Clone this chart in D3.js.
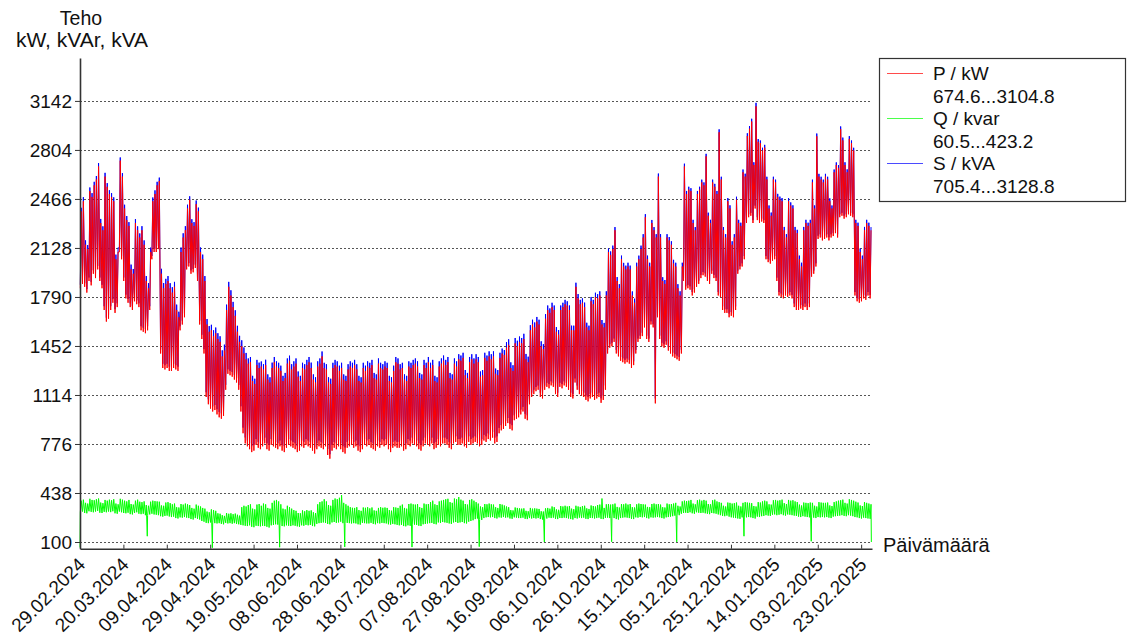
<!DOCTYPE html>
<html>
<head>
<meta charset="utf-8">
<script src="https://cdn.jsdelivr.net/npm/d3@7"></script>
<style>
  body { margin: 0; background: #fff; }
  svg { font-family: "Liberation Sans", Arial, sans-serif; }
  .axis path, .axis line { stroke: #333; }
  .axis text { fill: #111; }
</style>
</head>
<body>
<div id="chart"></div>
<script>
// first day of the data, one row = one week (Thu..Wed), 2 readings a day (night low / day high)
var startLabel = "29.02.2024";

var xTickLabels = ["29.02.2024", "20.03.2024", "09.04.2024", "29.04.2024", "19.05.2024", "08.06.2024",
  "28.06.2024", "18.07.2024", "07.08.2024", "27.08.2024", "16.09.2024", "06.10.2024", "26.10.2024",
  "15.11.2024", "05.12.2024", "25.12.2024", "14.01.2025", "03.02.2025", "23.02.2025"];
var yTicks = [100, 438, 776, 1114, 1452, 1790, 2128, 2466, 2804, 3142];

var legendNames = ["P / kW", "Q / kvar", "S / kVA"];
var legendRanges = ["674.6...3104.8", "60.5...423.2", "705.4...3128.8"];
var colors = ["#ff0000", "#00ff00", "#0000ff"];

// P / kW daily peaks
var pHi = [
  2380, 2450, 2150, 2120, 2520, 2480, 2560,
  2600, 2690, 2300, 2250, 2620, 2550, 2500,
  2480, 2450, 2050, 2100, 2730, 2620, 2400,
  2320, 2280, 1980, 1950, 2300, 2250, 2200,
  2250, 2150, 1900, 1850, 2100, 2450, 2500,
  2560, 2590, 1950, 1850, 1880, 1900, 1850,
  1820, 1860, 1700, 1650, 2100, 2200, 2250,
  2400, 2460, 2300, 2280, 2430, 2380, 2100,
  2050, 1900, 1600, 1550, 1560, 1520, 1540,
  1500, 1480, 1380, 1420, 1700, 1860, 1800,
  1720, 1660, 1550, 1480, 1450, 1400, 1360,
  1330, 1340, 1210, 1190, 1320, 1300, 1310,
  1290, 1320, 1220, 1200, 1300, 1340, 1310,
  1300, 1280, 1210, 1230, 1330, 1350, 1290,
  1310, 1330, 1240, 1210, 1300, 1290, 1320,
  1340, 1300, 1220, 1200, 1310, 1330, 1380,
  1300, 1290, 1200, 1190, 1300, 1320, 1310,
  1280, 1300, 1220, 1210, 1290, 1310, 1300,
  1320, 1290, 1210, 1200, 1300, 1280, 1310,
  1300, 1320, 1230, 1220, 1330, 1300, 1290,
  1310, 1300, 1210, 1200, 1280, 1340, 1330,
  1290, 1300, 1220, 1210, 1310, 1300, 1320,
  1330, 1310, 1230, 1220, 1320, 1300, 1340,
  1300, 1320, 1210, 1200, 1310, 1330, 1350,
  1320, 1340, 1230, 1220, 1330, 1310, 1360,
  1350, 1370, 1250, 1230, 1340, 1360, 1330,
  1360, 1340, 1240, 1250, 1370, 1350, 1380,
  1360, 1380, 1260, 1250, 1370, 1400, 1390,
  1440, 1460, 1300, 1280, 1470, 1450, 1480,
  1470, 1500, 1360, 1340, 1560, 1600, 1580,
  1620, 1600, 1450, 1430, 1640, 1700, 1680,
  1720, 1700, 1550, 1530, 1700, 1720, 1740,
  1730, 1700, 1560, 1560, 1860, 1780, 1740,
  1750, 1720, 1580, 1560, 1760, 1740, 1790,
  1780, 1800, 1600, 1580, 1800, 2100, 2080,
  2120, 2250, 1900, 1850, 2050, 2000, 1980,
  2000, 1980, 1800, 1750, 2000, 2050, 2120,
  2200, 2340, 2050, 2000, 2300, 2250, 2200,
  2620, 2200, 1900, 1880, 2200, 2180, 2150,
  2020, 2000, 1850, 1800, 2000, 2690, 2500,
  2530, 2520, 2300, 2250, 2500, 2530, 2580,
  2560, 2760, 2350, 2300, 2580, 2550, 2500,
  2926, 2600, 2250, 2200, 2450, 2400, 2150,
  2200, 2460, 2300, 2280, 2650, 2620, 2900,
  2950, 3000, 2700, 3104.8, 2860, 2850, 2800,
  2820, 2600, 2400, 2350, 2600, 2580, 2480,
  2460, 2450, 2250, 2200, 2450, 2420, 2400,
  2250, 2230, 2050, 2000, 2250, 2300, 2280,
  2300, 2580, 2400, 2898, 2620, 2600, 2580,
  2620, 2600, 2450, 2400, 2650, 2700, 2680,
  2947, 2870, 2700, 2650, 2880, 2850, 2800,
  2300, 2280, 2100, 2050, 2250, 2300, 2280,
  2250
];
// P / kW nightly lows
var pLo = [
  1850, 1880, 1860, 1820, 1900, 1870, 1950,
  1920, 1980, 1900, 1850, 1700, 1620, 1640,
  1700, 1750, 1680, 1720, 2100, 2050, 1900,
  1780, 1750, 1720, 1700, 1760, 1740, 1720,
  1560, 1550, 1540, 1560, 1700, 2050, 2100,
  2100, 2120, 1400, 1300, 1290, 1300, 1280,
  1280, 1300, 1290, 1280, 1560, 1600, 1650,
  1980, 2000, 1950, 1960, 1990, 1900, 1600,
  1500, 1400, 1100, 1050, 1020, 1000, 1010,
  980, 960, 950, 970, 1150, 1260, 1250,
  1240, 1220, 1200, 1150, 1000, 850, 780,
  760, 740, 720, 730, 770, 750, 740,
  760, 780, 740, 730, 770, 760, 750,
  740, 760, 730, 720, 750, 770, 760,
  750, 740, 720, 730, 760, 750, 770,
  760, 750, 730, 710, 740, 760, 750,
  740, 760, 700, 674.6, 730, 750, 740,
  760, 740, 720, 710, 750, 760, 770,
  750, 760, 730, 720, 740, 770, 760,
  770, 750, 740, 730, 760, 750, 770,
  760, 770, 740, 720, 750, 760, 750,
  750, 760, 730, 740, 770, 760, 780,
  770, 760, 740, 730, 760, 780, 770,
  760, 780, 740, 750, 770, 760, 780,
  780, 770, 750, 740, 780, 790, 770,
  770, 780, 760, 750, 790, 770, 780,
  790, 780, 760, 770, 800, 790, 810,
  800, 820, 780, 790, 850, 870, 880,
  900, 920, 880, 870, 940, 950, 960,
  980, 1000, 950, 940, 1050, 1100, 1120,
  1140, 1150, 1100, 1090, 1150, 1170, 1160,
  1180, 1170, 1120, 1100, 1170, 1160, 1180,
  1170, 1150, 1100, 1090, 1200, 1150, 1120,
  1110, 1100, 1080, 1070, 1090, 1100, 1080,
  1090, 1100, 1060, 1080, 1150, 1400, 1440,
  1450, 1480, 1400, 1380, 1350, 1340, 1330,
  1340, 1330, 1300, 1320, 1400, 1480, 1500,
  1520, 1580, 1500, 1480, 1600, 1580, 1056,
  1650, 1500, 1450, 1440, 1460, 1420, 1400,
  1380, 1370, 1360, 1350, 1400, 1900, 1840,
  1850, 1840, 1800, 1820, 1860, 1880, 1920,
  1940, 1930, 1900, 1880, 1950, 1920, 1900,
  1800, 1790, 1700, 1680, 1680, 1650, 1660,
  1650, 1700, 1950, 1980, 2000, 2050, 2300,
  2340, 2350, 2300, 2400, 2320, 2300, 2310,
  2300, 2050, 2030, 2020, 2040, 2050, 1900,
  1800, 1790, 1780, 1800, 1790, 1800, 1780,
  1720, 1700, 1700, 1710, 1700, 1720, 1700,
  1720, 1930, 1950, 2000, 2190, 2200, 2180,
  2190, 2200, 2180, 2200, 2210, 2230, 2200,
  2340, 2350, 2330, 2340, 2360, 2350, 2340,
  1800, 1760, 1750, 1760, 1780, 1770, 1800,
  1780
];
// S / kVA daily peaks
var sHi = [
  2405, 2478, 2180, 2148, 2545, 2506, 2584,
  2624, 2713, 2328, 2277, 2646, 2575, 2526,
  2506, 2477, 2082, 2130, 2752, 2644, 2426,
  2348, 2306, 2013, 1983, 2327, 2277, 2228,
  2278, 2180, 1934, 1885, 2130, 2476, 2525,
  2584, 2613, 1984, 1886, 1915, 1934, 1885,
  1857, 1894, 1737, 1688, 2131, 2229, 2278,
  2426, 2484, 2326, 2306, 2455, 2406, 2131,
  2082, 1934, 1638, 1589, 1598, 1560, 1579,
  1540, 1519, 1422, 1461, 1737, 1894, 1836,
  1756, 1698, 1591, 1522, 1491, 1442, 1404,
  1366, 1376, 1246, 1226, 1356, 1337, 1345,
  1326, 1357, 1256, 1236, 1337, 1376, 1346,
  1336, 1316, 1246, 1266, 1366, 1385, 1326,
  1346, 1366, 1276, 1246, 1336, 1326, 1356,
  1376, 1337, 1256, 1236, 1346, 1366, 1414,
  1336, 1326, 1236, 1226, 1336, 1356, 1346,
  1316, 1336, 1256, 1246, 1326, 1346, 1336,
  1356, 1326, 1246, 1236, 1336, 1316, 1346,
  1336, 1356, 1266, 1256, 1366, 1336, 1326,
  1346, 1336, 1246, 1236, 1316, 1376, 1366,
  1326, 1336, 1256, 1246, 1346, 1336, 1356,
  1366, 1346, 1266, 1256, 1356, 1336, 1376,
  1336, 1356, 1246, 1236, 1346, 1366, 1386,
  1356, 1376, 1266, 1256, 1366, 1346, 1395,
  1386, 1405, 1286, 1266, 1376, 1395, 1366,
  1395, 1376, 1276, 1286, 1405, 1386, 1415,
  1395, 1415, 1296, 1286, 1405, 1434, 1424,
  1478, 1498, 1339, 1319, 1507, 1488, 1517,
  1507, 1536, 1397, 1378, 1595, 1633, 1614,
  1652, 1633, 1484, 1464, 1672, 1731, 1711,
  1750, 1731, 1582, 1562, 1731, 1750, 1770,
  1760, 1731, 1592, 1592, 1888, 1810, 1770,
  1780, 1751, 1612, 1592, 1790, 1770, 1819,
  1809, 1829, 1631, 1611, 1829, 2124, 2104,
  2144, 2272, 1927, 1878, 2075, 2025, 2006,
  2026, 2006, 1828, 1778, 2026, 2075, 2144,
  2223, 2361, 2075, 2026, 2321, 2272, 2223,
  2641, 2223, 1926, 1907, 2223, 2203, 2174,
  2046, 2026, 1878, 1829, 2026, 2709, 2521,
  2550, 2540, 2322, 2272, 2521, 2550, 2599,
  2580, 2777, 2371, 2322, 2599, 2570, 2521,
  2946, 2619, 2272, 2223, 2472, 2422, 2174,
  2223, 2481, 2322, 2302, 2669, 2640, 2919,
  2969, 3019, 2719, 3128.8, 2879, 2869, 2819,
  2839, 2619, 2421, 2372, 2619, 2599, 2501,
  2482, 2472, 2273, 2223, 2472, 2442, 2422,
  2273, 2253, 2075, 2026, 2273, 2322, 2302,
  2322, 2599, 2421, 2917, 2639, 2619, 2599,
  2639, 2619, 2470, 2421, 2669, 2718, 2699,
  2966, 2889, 2719, 2670, 2899, 2869, 2819,
  2322, 2302, 2124, 2075, 2273, 2322, 2302,
  2272
];
// S / kVA nightly lows
var sLo = [
  1874, 1904, 1884, 1844, 1924, 1894, 1974,
  1944, 2004, 1924, 1874, 1726, 1647, 1667,
  1726, 1776, 1706, 1746, 2123, 2073, 1924,
  1806, 1776, 1746, 1726, 1786, 1766, 1746,
  1588, 1578, 1568, 1588, 1726, 2073, 2123,
  2122, 2142, 1427, 1329, 1319, 1329, 1309,
  1309, 1329, 1319, 1309, 1588, 1627, 1676,
  2003, 2023, 1973, 1983, 2013, 1924, 1627,
  1529, 1430, 1133, 1084, 1054, 1035, 1045,
  1016, 997, 987, 1006, 1184, 1291, 1281,
  1272, 1252, 1232, 1183, 1036, 889, 821,
  800, 781, 761, 771, 810, 790, 781,
  800, 820, 781, 771, 810, 800, 790,
  781, 800, 771, 761, 790, 810, 800,
  790, 781, 761, 771, 800, 790, 810,
  800, 790, 771, 752, 781, 800, 790,
  781, 800, 742, 705.4, 771, 790, 781,
  800, 781, 761, 752, 790, 800, 810,
  790, 800, 771, 761, 781, 810, 800,
  810, 790, 781, 771, 800, 790, 810,
  800, 810, 781, 761, 790, 800, 790,
  790, 800, 771, 781, 810, 800, 820,
  810, 800, 781, 771, 800, 820, 810,
  800, 820, 781, 790, 810, 800, 820,
  820, 810, 790, 781, 820, 829, 810,
  810, 820, 800, 790, 829, 810, 820,
  829, 820, 800, 810, 839, 829, 849,
  839, 858, 820, 829, 887, 906, 916,
  935, 955, 916, 906, 974, 984, 993,
  1013, 1032, 984, 974, 1081, 1130, 1150,
  1169, 1179, 1130, 1120, 1179, 1198, 1189,
  1208, 1198, 1150, 1130, 1198, 1189, 1208,
  1198, 1179, 1130, 1120, 1228, 1179, 1150,
  1140, 1130, 1111, 1101, 1120, 1130, 1111,
  1120, 1130, 1091, 1111, 1179, 1425, 1464,
  1474, 1503, 1425, 1405, 1376, 1366, 1356,
  1366, 1356, 1327, 1346, 1425, 1503, 1523,
  1543, 1602, 1523, 1503, 1622, 1602, 1090,
  1672, 1523, 1474, 1464, 1484, 1444, 1425,
  1405, 1395, 1385, 1376, 1425, 1922, 1863,
  1873, 1863, 1824, 1844, 1883, 1902, 1942,
  1962, 1952, 1923, 1903, 1972, 1942, 1923,
  1824, 1814, 1725, 1705, 1705, 1676, 1686,
  1676, 1725, 1972, 2002, 2022, 2072, 2320,
  2360, 2370, 2320, 2420, 2340, 2320, 2330,
  2320, 2072, 2052, 2042, 2062, 2072, 1923,
  1824, 1814, 1804, 1824, 1814, 1824, 1804,
  1745, 1725, 1725, 1735, 1725, 1745, 1725,
  1745, 1952, 1972, 2022, 2212, 2222, 2202,
  2212, 2222, 2202, 2222, 2232, 2252, 2222,
  2360, 2370, 2350, 2360, 2380, 2370, 2360,
  1824, 1784, 1774, 1784, 1804, 1794, 1824,
  1804
];
// Q / kvar daily highs
var qHi = [
  385, 392, 370, 365, 398, 390, 388,
  395, 400, 372, 368, 390, 385, 392,
  388, 395, 365, 360, 398, 392, 385,
  380, 390, 362, 358, 385, 392, 378,
  375, 380, 355, 350, 378, 385, 382,
  380, 378, 352, 350, 372, 375, 368,
  360, 365, 340, 338, 362, 358, 365,
  360, 355, 335, 330, 358, 350, 345,
  335, 330, 310, 305, 325, 320, 315,
  298, 295, 285, 280, 300, 295, 298,
  292, 296, 288, 282, 340, 350, 345,
  355, 360, 330, 325, 358, 362, 350,
  365, 360, 335, 330, 370, 385, 390,
  380, 360, 330, 325, 350, 340, 330,
  320, 315, 300, 298, 318, 312, 320,
  315, 318, 305, 300, 360, 375, 380,
  395, 380, 355, 350, 390, 400, 395,
  405, 423.2, 370, 360, 350, 340, 336,
  335, 340, 320, 315, 338, 336, 340,
  332, 338, 318, 315, 335, 340, 336,
  338, 335, 320, 316, 340, 338, 335,
  350, 358, 335, 330, 362, 365, 360,
  358, 362, 340, 335, 365, 360, 362,
  375, 385, 360, 355, 380, 385, 390,
  395, 398, 375, 370, 400, 395, 410,
  392, 385, 362, 358, 390, 395, 385,
  375, 365, 345, 340, 362, 360, 365,
  360, 358, 340, 335, 362, 358, 352,
  345, 340, 320, 318, 338, 335, 332,
  330, 332, 315, 312, 335, 330, 332,
  330, 328, 312, 310, 332, 335, 330,
  345, 340, 325, 322, 348, 345, 350,
  345, 348, 330, 326, 350, 345, 342,
  348, 350, 332, 328, 352, 348, 345,
  355, 358, 400, 335, 360, 362, 358,
  360, 365, 342, 338, 362, 360, 365,
  358, 362, 340, 338, 360, 365, 362,
  360, 358, 342, 340, 362, 365, 360,
  362, 358, 340, 338, 365, 360, 362,
  365, 370, 350, 345, 380, 385, 382,
  385, 390, 365, 360, 388, 392, 385,
  390, 385, 362, 360, 388, 392, 380,
  375, 370, 350, 345, 372, 370, 365,
  368, 372, 350, 345, 370, 375, 372,
  370, 368, 348, 345, 375, 372, 380,
  385, 380, 360, 358, 388, 390, 385,
  388, 392, 368, 362, 390, 385, 388,
  380, 375, 358, 352, 372, 370, 368,
  372, 370, 350, 345, 375, 372, 370,
  370, 372, 352, 348, 375, 380, 385,
  388, 392, 370, 365, 395, 390, 385,
  378, 372, 352, 348, 375, 370, 365,
  360
];
// Q / kvar nightly lows
var qLo = [
  305, 310, 300, 298, 312, 308, 305,
  310, 315, 302, 300, 308, 305, 310,
  306, 312, 298, 295, 310, 305, 300,
  298, 302, 292, 290, 300, 305, 295,
  292, 295, 285, 282, 290, 295, 290,
  288, 285, 278, 275, 280, 282, 276,
  272, 275, 265, 262, 270, 268, 272,
  268, 265, 258, 255, 265, 260, 255,
  245, 240, 232, 230, 235, 232, 230,
  228, 230, 225, 222, 232, 228, 230,
  226, 230, 225, 222, 218, 215, 212,
  210, 215, 205, 202, 212, 210, 208,
  212, 210, 205, 200, 215, 218, 222,
  220, 215, 210, 208, 215, 212, 210,
  215, 212, 208, 205, 215, 212, 218,
  215, 218, 210, 208, 225, 230, 232,
  235, 232, 225, 222, 235, 238, 232,
  235, 240, 230, 228, 232, 230, 228,
  230, 228, 222, 220, 232, 230, 228,
  228, 232, 225, 222, 230, 228, 232,
  230, 228, 222, 220, 225, 222, 218,
  215, 218, 210, 208, 215, 212, 218,
  220, 218, 212, 210, 222, 225, 228,
  230, 232, 225, 222, 235, 232, 238,
  235, 232, 228, 225, 235, 238, 232,
  235, 238, 230, 228, 240, 245, 250,
  258, 262, 255, 252, 265, 270, 272,
  270, 272, 265, 262, 270, 268, 272,
  268, 270, 262, 260, 270, 268, 265,
  265, 268, 260, 258, 265, 262, 265,
  262, 265, 258, 255, 265, 262, 268,
  265, 268, 260, 258, 266, 265, 268,
  265, 262, 258, 255, 265, 262, 268,
  265, 268, 260, 258, 266, 265, 262,
  265, 268, 260, 258, 266, 268, 265,
  262, 265, 258, 255, 265, 268, 270,
  268, 265, 260, 258, 270, 268, 272,
  270, 272, 265, 262, 270, 268, 270,
  272, 270, 265, 262, 270, 272, 275,
  278, 282, 280, 285, 295, 300, 302,
  300, 305, 298, 295, 305, 302, 300,
  302, 298, 295, 292, 300, 298, 295,
  290, 285, 280, 278, 282, 275, 270,
  268, 265, 262, 260, 270, 272, 270,
  272, 270, 265, 262, 275, 272, 278,
  280, 285, 282, 280, 288, 290, 285,
  288, 292, 285, 282, 290, 288, 285,
  282, 280, 275, 272, 278, 275, 272,
  270, 272, 268, 265, 272, 270, 272,
  270, 272, 268, 265, 275, 278, 280,
  282, 285, 280, 278, 285, 282, 278,
  272, 270, 265, 262, 268, 265, 262,
  260
];
// Q / kvar single low readings at the month changes (day number, value)
var qDipDays = [0, 31, 61, 92, 122, 153, 184, 214, 245, 275, 306, 337, 364.7];
var qDipValues = [62, 140, 60.5, 64, 66, 65, 68, 100, 102, 101, 140, 105, 100];

var W = 1128, H = 639;
var plot = { left: 80, right: 872, top: 58, bottom: 548.7 };
var dayMs = 864e5;
var parse = d3.timeParse("%d.%m.%Y");
var start = parse(startLabel);
function dayToDate(d) { return new Date(start.getTime() + d * dayMs); }

// one point for the night low and one for the day high of every day
function buildSeries(lo, hi, dipDays, dipValues) {
  var pts = [];
  var n = Math.min(lo.length, hi.length);
  for (var i = 0; i < n; i++) {
    pts.push({ t: i + 0.15, v: lo[i] });
    pts.push({ t: i + 0.55, v: hi[i] });
  }
  if (dipDays) {
    for (var j = 0; j < dipDays.length; j++) pts.push({ t: dipDays[j], v: dipValues[j] });
    pts.sort((a, b) => a.t - b.t);
  }
  return pts.map(p => ({ date: dayToDate(p.t), v: p.v }));
}

var seriesP = buildSeries(pLo, pHi);
var seriesS = buildSeries(sLo, sHi);
var seriesQ = buildSeries(qLo, qHi, qDipDays, qDipValues);

var x = d3.scaleTime()
  .domain([start, dayToDate(365)])
  .range([plot.left, plot.right]);
var y = d3.scaleLinear()
  .domain([53.8, 3438])
  .range([plot.bottom, plot.top]);

var svg = d3.select("#chart").append("svg")
  .attr("width", W)
  .attr("height", H);

// dotted grid
svg.append("g")
  .selectAll("line")
  .data(yTicks)
  .enter().append("line")
  .attr("x1", plot.left)
  .attr("x2", plot.right)
  .attr("y1", d => Math.round(y(d)) + 0.5)
  .attr("y2", d => Math.round(y(d)) + 0.5)
  .attr("stroke", "#555")
  .attr("stroke-width", 1)
  .attr("stroke-dasharray", "2,2");

var line = d3.line()
  .x(d => x(d.date))
  .y(d => y(d.v));

svg.append("path").datum(seriesS)
  .attr("fill", "none").attr("stroke", colors[2]).attr("stroke-width", 1)
  .attr("d", line);
svg.append("path").datum(seriesP)
  .attr("fill", "none").attr("stroke", colors[0]).attr("stroke-width", 1)
  .attr("d", line);
svg.append("path").datum(seriesQ)
  .attr("fill", "none").attr("stroke", colors[1]).attr("stroke-width", 1)
  .attr("d", line);

// axes
var gy = svg.append("g")
  .attr("class", "axis")
  .attr("transform", "translate(" + plot.left + ",0)")
  .call(d3.axisLeft(y).tickValues(yTicks).tickFormat(d3.format("d"))
    .tickSize(5).tickSizeOuter(0).tickPadding(3));
gy.select(".domain").attr("stroke-width", 1.6);
gy.selectAll("text").style("font-size", "19px");

var gx = svg.append("g")
  .attr("class", "axis")
  .attr("transform", "translate(0," + plot.bottom + ")")
  .call(d3.axisBottom(x).tickValues(xTickLabels.map(parse)).tickSizeInner(-4).tickSizeOuter(0)
    .tickFormat(d3.timeFormat("%d.%m.%Y")));
gx.select(".domain").attr("stroke-width", 1.6);
gx.selectAll("text")
  .attr("x", 0).attr("y", 0).attr("dy", 0)
  .attr("text-anchor", "end")
  .attr("transform", "translate(6,17) rotate(-45)")
  .style("font-size", "19px");

// axis titles
svg.append("text")
  .attr("x", 81).attr("y", 25)
  .attr("text-anchor", "middle")
  .style("font-size", "19.5px").attr("fill", "#111")
  .text("Teho");
svg.append("text")
  .attr("x", 82).attr("y", 47)
  .attr("text-anchor", "middle")
  .style("font-size", "21px").attr("fill", "#111")
  .text("kW, kVAr, kVA");
svg.append("text")
  .attr("x", 883).attr("y", 552)
  .style("font-size", "20px").attr("fill", "#111")
  .text("Päivämäärä");

// legend
var legend = svg.append("g");
legend.append("rect")
  .attr("x", 879.5).attr("y", 58.5)
  .attr("width", 246).attr("height", 143)
  .attr("fill", "#fff")
  .attr("stroke", "#333").attr("stroke-width", 1.2);
legendNames.forEach(function (name, i) {
  var base = 80 + i * 45;
  legend.append("line")
    .attr("x1", 887).attr("x2", 923)
    .attr("y1", base - 6.5).attr("y2", base - 6.5)
    .attr("stroke", colors[i]).attr("stroke-width", 1).attr("opacity", 0.7);
  legend.append("text")
    .attr("x", 933).attr("y", base)
    .style("font-size", "19px").attr("fill", "#111")
    .text(name);
  legend.append("text")
    .attr("x", 933).attr("y", base + 22.5)
    .style("font-size", "19px").attr("fill", "#111")
    .text(legendRanges[i]);
});
</script>
</body>
</html>
